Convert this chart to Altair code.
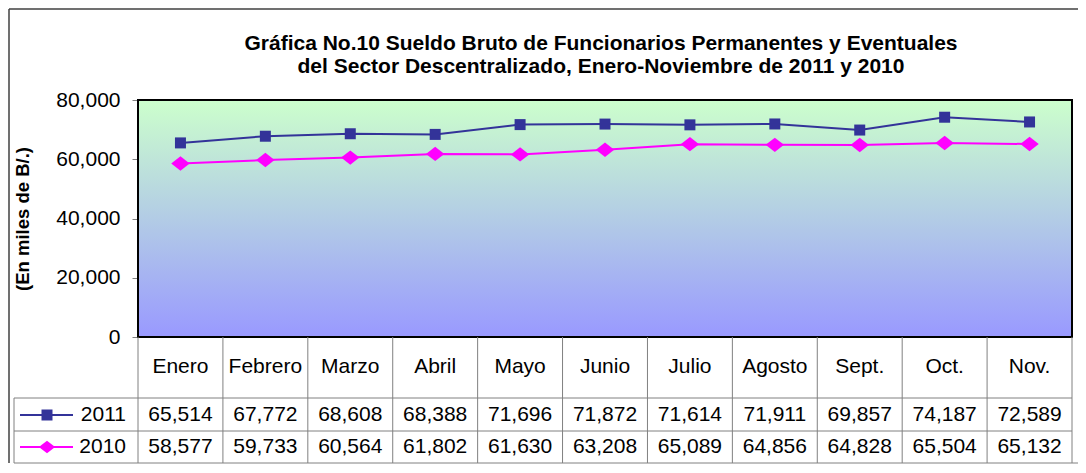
import altair as alt
import pandas as pd

# ---------------- data ----------------
months = ["Enero", "Febrero", "Marzo", "Abril", "Mayo", "Junio", "Julio",
          "Agosto", "Sept.", "Oct.", "Nov."]
v2011 = [65514, 67772, 68608, 68388, 71696, 71872, 71614, 71911, 69857, 74187, 72589]
v2010 = [58577, 59733, 60564, 61802, 61630, 63208, 65089, 64856, 64828, 65504, 65132]
series = ["2011", "2010"]
colors = ["#333399", "#FF00FF"]
y_ticks = [0, 20000, 40000, 60000, 80000]
title_lines = ["Gráfica No.10 Sueldo Bruto de Funcionarios Permanentes y Eventuales",
               "del Sector Descentralizado, Enero-Noviembre de 2011 y 2010"]
y_title = "(En miles de B/.)"

rows = []
for m, a, b in zip(months, v2011, v2010):
    rows.append({"month": m, "serie": "2011", "value": a})
    rows.append({"month": m, "serie": "2010", "value": b})
df = pd.DataFrame(rows)
mdf = pd.DataFrame({"month": months})
one = pd.DataFrame({"k": [0]})

# ---------------- layout ----------------
W, H = 934, 237
STEP = W / len(months)
FONT = "Liberation Sans"
GRID = "#808080"
FS = 21
ROW1_TOP, ROW2_TOP, ROW3_TOP, TBL_BOT = H, 298, 331, 363
HDR_Y, R2011_Y, R2010_Y = 267, 315, 347
LEG_X0, LEG_X1, LEG_MK, LEG_TX = -124, -65, -91, -12

x = alt.X("month:N", sort=months, scale=alt.Scale(type="point", padding=0.5), axis=None)
y = alt.Y("value:Q", scale=alt.Scale(domain=[0, 80000], nice=False),
          axis=alt.Axis(values=y_ticks, labelExpr="format(datum.value, ',')",
                        grid=False, domain=False,
                        tickColor=GRID, tickSize=6, labelPadding=12,
                        labelFont=FONT, labelFontSize=FS, labelColor="black",
                        titleFont=FONT, titleFontSize=18.5, titleFontWeight="bold",
                        titleColor="black", titleX=-116, titleY=H / 2,
                        titleAngle=270, titleAlign="center", titleBaseline="middle"),
          title=y_title)
color = alt.Color("serie:N", scale=alt.Scale(domain=series, range=colors), legend=None)

grad = alt.LinearGradient(gradient="linear",
                          stops=[alt.GradientStop(color="#CCFFCC", offset=0),
                                 alt.GradientStop(color="#9999FF", offset=1)],
                          x1=0, x2=0, y1=0, y2=1)
bg = alt.Chart(one).mark_rect(fill=grad).encode(
    x=alt.value(0), x2=alt.value(W), y=alt.value(0), y2=alt.value(H))

lines = alt.Chart(df).mark_line(strokeWidth=2).encode(x=x, y=y, color=color, detail="serie:N")

pts2011 = alt.Chart(df).transform_filter(alt.datum.serie == "2011").mark_point(
    shape="square", filled=True, size=121, color=colors[0], opacity=1).encode(x=x, y=y)
DIAMOND = "M-1.15,0L0,-0.9L1.15,0L0,0.9Z"
pts2010 = alt.Chart(df).transform_filter(alt.datum.serie == "2010").mark_point(
    shape=DIAMOND, filled=True, size=256, color=colors[1], opacity=1).encode(x=x, y=y)

frame = alt.Chart(one).mark_rect(fillOpacity=0, stroke="black", strokeWidth=2).encode(
    x=alt.value(0), x2=alt.value(W), y=alt.value(0), y2=alt.value(H))

# table grid
vlines = alt.Chart(mdf).mark_rule(color=GRID, strokeWidth=1, xOffset=-STEP / 2).encode(
    x=x, y=alt.value(ROW1_TOP), y2=alt.value(TBL_BOT))
layers_tbl = [vlines]
layers_tbl.append(alt.Chart(one).mark_rule(color=GRID, strokeWidth=1).encode(
    x=alt.value(W), y=alt.value(ROW1_TOP), y2=alt.value(TBL_BOT)))
layers_tbl.append(alt.Chart(one).mark_rule(color=GRID, strokeWidth=1).encode(
    x=alt.value(LEG_X0), y=alt.value(ROW2_TOP), y2=alt.value(TBL_BOT)))
for yy in (ROW2_TOP, ROW3_TOP, TBL_BOT):
    layers_tbl.append(alt.Chart(one).mark_rule(color=GRID, strokeWidth=1).encode(
        x=alt.value(LEG_X0), x2=alt.value(W), y=alt.value(yy)))

# outer chart border (left, top, bottom)
OUT_L, OUT_T = -129, -91
border = [
    alt.Chart(one).mark_rule(color="#404040", strokeWidth=1.5).encode(
        x=alt.value(OUT_L), y=alt.value(OUT_T), y2=alt.value(TBL_BOT)),
    alt.Chart(one).mark_rule(color="#404040", strokeWidth=1.5).encode(
        x=alt.value(OUT_L), x2=alt.value(W + 6), y=alt.value(OUT_T)),
    alt.Chart(one).mark_rule(color=GRID, strokeWidth=1).encode(
        x=alt.value(W), x2=alt.value(W + 6), y=alt.value(TBL_BOT)),
]

# title as two text lines
title_layers = []
for txt, ty in zip(title_lines, (-56, -33)):
    title_layers.append(alt.Chart(one).mark_text(
        font=FONT, fontSize=21, fontWeight="bold", baseline="middle", align="center",
        color="black").encode(x=alt.value(W / 2 - 4), y=alt.value(ty), text=alt.value(txt)))

header = alt.Chart(mdf).mark_text(font=FONT, fontSize=FS, baseline="middle", color="black").encode(
    x=x, y=alt.value(HDR_Y), text="month:N")

val_layers = []
leg_layers = []
for s, col, ry, shp, sz in [("2011", colors[0], R2011_Y, "square", 121),
                            ("2010", colors[1], R2010_Y, DIAMOND, 200)]:
    val_layers.append(
        alt.Chart(df).transform_filter(alt.datum.serie == s).mark_text(
            font=FONT, fontSize=FS, baseline="middle", color="black").encode(
            x=x, y=alt.value(ry), text=alt.Text("value:Q", format=",")))
    leg_layers.append(alt.Chart(one).mark_rule(color=col, strokeWidth=2).encode(
        x=alt.value(LEG_X0 + 6), x2=alt.value(LEG_X1), y=alt.value(ry)))
    leg_layers.append(alt.Chart(one).mark_point(shape=shp, filled=True, size=sz,
                                                color=col, opacity=1).encode(
        x=alt.value(LEG_MK), y=alt.value(ry)))
    leg_layers.append(alt.Chart(one).mark_text(font=FONT, fontSize=FS, baseline="middle",
                                               align="right", color="black").encode(
        x=alt.value(LEG_TX), y=alt.value(ry), text=alt.value(s)))

chart = alt.layer(
    bg, lines, pts2011, pts2010, frame, *layers_tbl, *border, *title_layers, header,
    *val_layers, *leg_layers
).properties(
    width=W, height=H, autosize="none",
    padding={"left": 130, "top": 92, "right": 6, "bottom": 128},
).configure_view(strokeWidth=0)

chart.save("out.html", embed_options={"renderer": "svg", "actions": False})
